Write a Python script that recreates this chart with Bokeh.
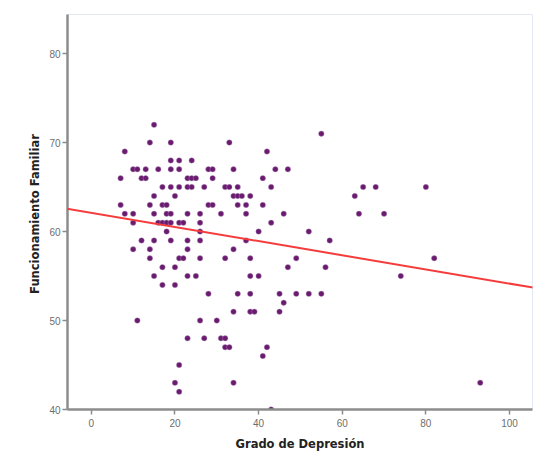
from bokeh.plotting import figure
from bokeh.models import Range1d, FixedTicker, Slope, ColumnDataSource
from bokeh.embed import file_html
from bokeh.resources import INLINE

# Data (Grado de Depresión vs Funcionamiento Familiar)
depresion = [15, 14, 19, 33, 8, 19, 21, 24,
             10, 11, 13, 16, 19, 21, 28, 29, 34,
             7, 12, 13, 23, 24, 25, 29,
             17, 19, 21, 23, 24, 27, 32, 33, 35,
             15, 20, 34, 35,
             7, 14, 17, 18, 28, 29, 35,
             8, 10, 15, 18, 19, 23, 26, 31,
             10, 16, 17, 18, 19, 21, 22, 26,
             18, 26,
             12, 15, 19, 23, 26,
             10, 14, 23, 34,
             14, 21, 22, 26, 32,
             17, 20, 15, 23, 25, 17, 20, 28, 35, 34, 11, 26, 30,
             23, 27, 31, 32, 32, 33, 21, 20, 34, 21,
             55, 42, 44, 47, 41, 43, 65, 68, 36, 38, 63, 37, 41, 37, 46, 64, 70,
             43, 40, 52, 37, 57, 38, 49,
             47, 56, 38, 40, 38, 45, 49, 52, 55, 46, 38, 39, 45, 42, 41, 43,
             80, 82, 74, 93]
funcionamiento = [72, 70, 70, 70, 69, 68, 68, 68,
                  67, 67, 67, 67, 67, 67, 67, 67, 67,
                  66, 66, 66, 66, 66, 66, 66,
                  65, 65, 65, 65, 65, 65, 65, 65, 65,
                  64, 64, 64, 64,
                  63, 63, 63, 63, 63, 63, 63,
                  62, 62, 62, 62, 62, 62, 62, 62,
                  61, 61, 61, 61, 61, 61, 61, 61,
                  60, 60,
                  59, 59, 59, 59, 59,
                  58, 58, 58, 58,
                  57, 57, 57, 57, 57,
                  56, 56, 55, 55, 55, 54, 54, 53, 53, 51, 50, 50, 50,
                  48, 48, 48, 48, 47, 47, 45, 43, 43, 42,
                  71, 69, 67, 67, 66, 65, 65, 65, 64, 64, 64, 63, 63, 62, 62, 62, 62,
                  61, 60, 60, 59, 59, 57, 57,
                  56, 56, 55, 55, 53, 53, 53, 53, 53, 52, 51, 51, 51, 47, 46, 40,
                  65, 57, 55, 43]

# Fitted regression line
fit_intercept = 62.11
fit_slope = -0.0796

x_ticks = [0, 20, 40, 60, 80, 100]
y_ticks = [40, 50, 60, 70, 80]

src = ColumnDataSource(dict(x=depresion, y=funcionamiento))

p = figure(width=542, height=453, output_backend="svg", toolbar_location=None,
           x_range=Range1d(-5.7, 105.5), y_range=Range1d(40, 84.4),
           min_border_left=67, min_border_right=10, min_border_top=14, min_border_bottom=40)

p.xgrid.visible = False
p.ygrid.visible = False
p.outline_line_color = "#e3e9f1"
p.outline_line_width = 1
p.background_fill_color = "white"
p.border_fill_color = "white"

p.add_layout(Slope(gradient=fit_slope, y_intercept=fit_intercept,
                   line_color="#f53c3c", line_width=2))

p.scatter("x", "y", source=src, size=5.5, fill_color="#6a1b70",
          line_color="#b89cc0", line_width=0.4)

for ax in (p.xaxis[0], p.yaxis[0]):
    ax.axis_line_color = "#8c8c8c"
    ax.axis_line_width = 2.5
    ax.major_tick_line_color = "#8c8c8c"
    ax.major_tick_line_width = 1.5
    ax.major_tick_out = 5
    ax.major_tick_in = 0
    ax.minor_tick_line_color = None
    ax.major_label_text_font = "Liberation Sans"
    ax.major_label_text_font_size = "10px"
    ax.major_label_text_color = "#6e6e6e"
    ax.axis_label_text_font = "DejaVu Sans"
    ax.axis_label_text_font_style = "bold"
    ax.axis_label_text_font_size = "11.5px"
    ax.axis_label_text_color = "#222222"

p.xaxis[0].major_label_standoff = 4
p.yaxis[0].major_label_standoff = 2
p.xaxis[0].ticker = FixedTicker(ticks=x_ticks)
p.yaxis[0].ticker = FixedTicker(ticks=y_ticks)
p.xaxis[0].axis_label = "Grado de Depresión"
p.yaxis[0].axis_label = "Funcionamiento  Familiar"
p.xaxis[0].axis_label_standoff = 7
p.yaxis[0].axis_label_standoff = 4

open("out.html", "w").write(file_html(p, INLINE))
